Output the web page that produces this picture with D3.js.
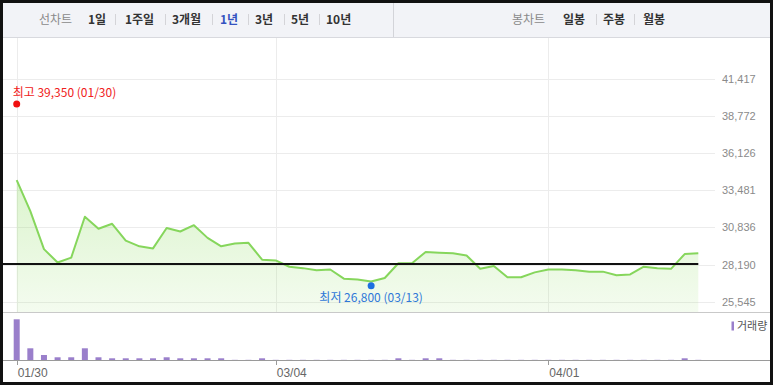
<!DOCTYPE html>
<html><head><meta charset="utf-8">
<script src="https://cdn.jsdelivr.net/npm/d3@7"></script>
<style>
html,body{margin:0;padding:0;background:#fff;}
svg{display:block;}
</style></head>
<body>
<svg id="c" width="773" height="385"></svg>
<script>
// ---- data ----
const dates = ["01/30","01/31","02/01","02/02","02/05","02/06","02/07","02/08","02/13","02/14",
  "02/15","02/16","02/19","02/20","02/21","02/22","02/23","02/26","02/27","03/04",
  "03/05","03/06","03/07","03/08","03/11","03/12","03/13","03/14","03/15","03/18",
  "03/19","03/20","03/21","03/22","03/25","03/26","03/27","03/28","03/29","04/01",
  "04/02","04/03","04/04","04/05","04/08","04/09","04/11","04/12","04/15","04/16","04/17"];
const closePrices = [34200,32000,29300,28350,28700,31600,30750,31100,29900,29500,
  29350,30800,30550,31000,30100,29500,29700,29750,28550,28500,
  28050,27950,27800,27850,27200,27150,27000,27250,28300,28300,
  29100,29050,29000,28850,27900,28100,27300,27300,27650,27850,
  27850,27800,27700,27700,27450,27500,28050,27950,27900,28950,29000];
const volumes = [4800000,1380000,590000,320000,320000,1380000,320000,200000,200000,200000,
  200000,320000,200000,200000,200000,200000,20000,20000,200000,20000,
  20000,20000,20000,20000,20000,20000,20000,20000,200000,20000,
  200000,200000,20000,20000,20000,20000,20000,20000,20000,20000,
  20000,20000,20000,20000,20000,20000,20000,20000,20000,200000,20000];
const yTicks = [41417,38772,36126,33481,30836,28190,25545];
const xTickLabels = ["01/30","03/04","04/01"];
const high = {value:39350, date:"01/30", label:"최고 39,350 (01/30)"};
const low = {value:26800, date:"03/13", label:"최저 26,800 (03/13)"};
const refPrice = 28240;
const periodTabs = ["1일","1주일","3개월","1년","3년","5년","10년"];
const activePeriod = "1년";
const candleTabs = ["일봉","주봉","월봉"];

// ---- layout ----
const W = 773, H = 385;
const svg = d3.select("#c");
const KR = "'Noto Sans CJK KR','Noto Sans',sans-serif";
const NUM = "'Liberation Sans',Arial,sans-serif";

const x = d3.scalePoint().domain(dates).range([16.7, 698.3]);
const y = d3.scaleLinear().domain([25545, 41417]).range([302, 78.5]);
const vy = d3.scaleLinear().domain([0, d3.max(volumes)]).range([360, 319.3]);

// background
svg.append("rect").attr("width",W).attr("height",H).attr("fill","#fff");

// header
svg.append("rect").attr("x",0).attr("y",0).attr("width",W).attr("height",37).attr("fill","#f2f3f7");
svg.append("line").attr("x1",0).attr("x2",W).attr("y1",37.5).attr("y2",37.5).attr("stroke","#d8d9de");
svg.append("line").attr("x1",393.5).attr("x2",393.5).attr("y1",0).attr("y2",37).attr("stroke","#d3d4d9");

const hdr = svg.append("g").attr("font-family",KR).attr("font-size",12);
hdr.append("text").attr("x",39).attr("y",24).attr("fill","#8a8a8a").text("선차트");
const periodX = [88,125,172,220,255,291,326];
const sepX1 = [115,165,212,248,284,319];
periodTabs.forEach((t,i)=>{
  hdr.append("text").attr("x",periodX[i]).attr("y",24).attr("font-weight","bold")
    .attr("fill", t===activePeriod ? "#3452c0" : "#333").text(t);
});
sepX1.forEach(sx=>hdr.append("line").attr("x1",sx+0.5).attr("x2",sx+0.5).attr("y1",14).attr("y2",25).attr("stroke","#d4d4d8"));
hdr.append("text").attr("x",512).attr("y",24).attr("fill","#8a8a8a").text("봉차트");
const candleX = [563,603,643];
candleTabs.forEach((t,i)=>hdr.append("text").attr("x",candleX[i]).attr("y",24).attr("font-weight","bold").attr("fill","#333").text(t));
[596,634].forEach(sx=>hdr.append("line").attr("x1",sx+0.5).attr("x2",sx+0.5).attr("y1",14).attr("y2",25).attr("stroke","#d4d4d8"));

// gridlines
const grid = svg.append("g");
yTicks.forEach(v=>grid.append("line").attr("x1",2).attr("x2",715).attr("y1",Math.round(y(v))+0.5).attr("y2",Math.round(y(v))+0.5).attr("stroke","#ececec"));
xTickLabels.forEach(d=>grid.append("line").attr("x1",Math.round(x(d))+0.5).attr("x2",Math.round(x(d))+0.5).attr("y1",38).attr("y2",312).attr("stroke","#ececec"));

// area gradient
const defs = svg.append("defs");
const grad = defs.append("linearGradient").attr("id","ag").attr("gradientUnits","userSpaceOnUse")
  .attr("x1",0).attr("x2",0).attr("y1",180).attr("y2",312);
grad.append("stop").attr("offset",0).attr("stop-color","#8fdc62").attr("stop-opacity",0.32);
grad.append("stop").attr("offset",1).attr("stop-color","#8fdc62").attr("stop-opacity",0.1);

const area = d3.area().x((d,i)=>x(dates[i])).y0(312).y1(d=>y(d));
svg.append("path").datum(closePrices).attr("d",area).attr("fill","url(#ag)");
const line = d3.line().x((d,i)=>x(dates[i])).y(d=>y(d));
svg.append("path").datum(closePrices).attr("d",line).attr("fill","none").attr("stroke","#86d65c").attr("stroke-width",2).attr("stroke-linejoin","round");

// reference line
svg.append("line").attr("x1",0).attr("x2",x(dates[dates.length-1])).attr("y1",y(refPrice)).attr("y2",y(refPrice))
  .attr("stroke","#111").attr("stroke-width",2);

// y tick labels
const yl = svg.append("g").attr("font-family",NUM).attr("font-size",11).attr("fill","#8a8a8a");
yTicks.forEach(v=>yl.append("text").attr("x",722).attr("y",y(v)+4).text(d3.format(",")(v)));

// high / low markers
svg.append("circle").attr("cx",x(high.date)).attr("cy",y(high.value)-3.5).attr("r",3.5).attr("fill","#f01010");
svg.append("text").attr("x",x(high.date)-4).attr("y",y(high.value)-11).attr("font-family",KR).attr("font-size",12)
  .attr("fill","#f02020").text(high.label);
svg.append("circle").attr("cx",x(low.date)).attr("cy",y(low.value)+1.5).attr("r",3.5).attr("fill","#1e6fe0");
svg.append("text").attr("x",x(low.date)).attr("y",y(low.value)+17.5).attr("text-anchor","middle").attr("font-family",KR).attr("font-size",12)
  .attr("fill","#2f78d8").text(low.label);

// volume panel
svg.append("line").attr("x1",0).attr("x2",W).attr("y1",312.5).attr("y2",312.5).attr("stroke","#c9c9c9");
svg.selectAll(".vb").data(volumes).enter().append("rect")
  .attr("x",(d,i)=>x(dates[i])-3).attr("width",6)
  .attr("y",d=>vy(d)).attr("height",d=>360-vy(d)).attr("fill","#9a7fcb");
svg.append("line").attr("x1",0).attr("x2",W).attr("y1",360.5).attr("y2",360.5).attr("stroke","#9a9a9a");
xTickLabels.forEach(d=>{
  svg.append("line").attr("x1",Math.round(x(d))+0.5).attr("x2",Math.round(x(d))+0.5).attr("y1",361).attr("y2",365).attr("stroke","#9a9a9a");
  svg.append("text").attr("x",x(d)+1).attr("y",377).attr("font-family",NUM).attr("font-size",12).attr("fill","#666").text(d);
});
// legend
svg.append("rect").attr("x",731.5).attr("y",321.5).attr("width",2.5).attr("height",9).attr("fill","#9a7fcb");
svg.append("text").attr("x",737).attr("y",330).attr("font-family",KR).attr("font-size",11).attr("fill","#555").text("거래량");

// outer frame
svg.append("rect").attr("x",1.5).attr("y",1.5).attr("width",W-3).attr("height",H-3).attr("fill","none").attr("stroke","#111").attr("stroke-width",3);
</script>
</body></html>
